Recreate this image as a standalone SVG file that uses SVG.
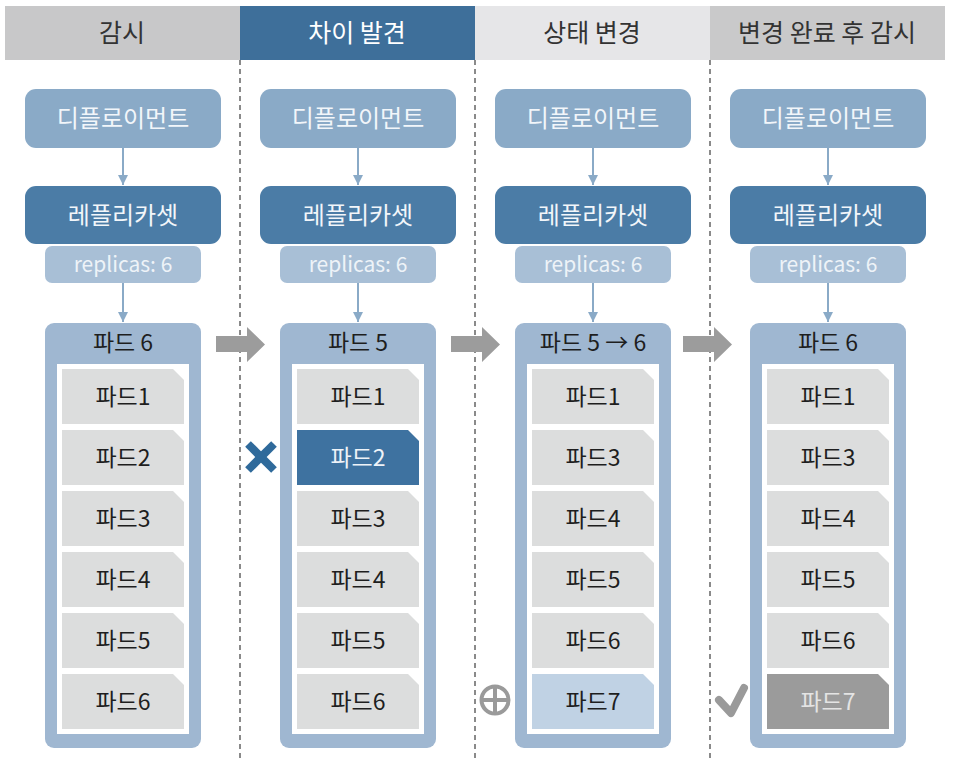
<svg xmlns="http://www.w3.org/2000/svg" width="953" height="764" viewBox="0 0 953 764">
<defs>
<style>
text{font-family:"Noto Sans CJK KR","Noto Sans",sans-serif;text-anchor:middle}
.hd{font-size:25px;fill:#333}
.hdw{font-size:25px;fill:#fff}
.dep{fill:#8aaac7}
.rs{fill:#4b7ca6}
.rep{fill:#a8bfd6}
.wt{font-size:24px;fill:#f2f6fa}
.rpt{font-size:21px;fill:#eef3f8}
.cont{fill:#9fb7d1}
.inner{fill:#fff}
.item{fill:#dcdddd}
.it{font-size:23px;fill:#1e1e1e}
.vl{stroke:#8aaac7;stroke-width:2;fill:none}
.dash{stroke:#8a8a8a;stroke-width:2;stroke-dasharray:5 4}
.blk{fill:#9c9c9c}
</style>
<marker id="ah" markerWidth="12" markerHeight="10" refX="10" refY="5" orient="auto" markerUnits="userSpaceOnUse">
<path d="M0,0 L10,5 L0,10 Z" fill="#8aaac7"/>
</marker>
<path id="itm" d="M0,0 H111 L122,11 V55 H0 Z"/>
</defs>
<rect width="953" height="764" fill="#fff"/>

<g id="headers">
<rect x="5" y="6" width="235" height="54" fill="#c8c8c9"/>
<rect x="240" y="6" width="235" height="54" fill="#3e6f9a"/>
<rect x="475" y="6" width="235" height="54" fill="#e6e6e8"/>
<rect x="710" y="6" width="235" height="54" fill="#c9c9ca"/>
<text class="hd" x="122" y="42">감시</text>
<text class="hdw" x="357" y="42">차이 발견</text>
<text class="hd" x="592" y="42">상태 변경</text>
<text class="hd" x="827" y="42">변경 완료 후 감시</text>
</g>

<g id="dividers">
<line class="dash" x1="240" y1="60" x2="240" y2="762"/>
<line class="dash" x1="475" y1="60" x2="475" y2="762"/>
<line class="dash" x1="710" y1="60" x2="710" y2="762"/>
</g>

<g id="connectors">
<line class="vl" x1="123" y1="148" x2="123" y2="185" marker-end="url(#ah)"/>
<line class="vl" x1="123" y1="283" x2="123" y2="322" marker-end="url(#ah)"/>
<line class="vl" x1="358" y1="148" x2="358" y2="185" marker-end="url(#ah)"/>
<line class="vl" x1="358" y1="283" x2="358" y2="322" marker-end="url(#ah)"/>
<line class="vl" x1="593" y1="148" x2="593" y2="185" marker-end="url(#ah)"/>
<line class="vl" x1="593" y1="283" x2="593" y2="322" marker-end="url(#ah)"/>
<line class="vl" x1="828" y1="148" x2="828" y2="185" marker-end="url(#ah)"/>
<line class="vl" x1="828" y1="283" x2="828" y2="322" marker-end="url(#ah)"/>
<path class="blk" d="M216,336 H247 V327 L265,344.5 L247,362 V352 H216 Z"/>
<path class="blk" d="M451,336 H482 V327 L500,344.5 L482,362 V352 H451 Z"/>
<path class="blk" d="M683,336 H714 V327 L732,344.5 L714,362 V352 H683 Z"/>
</g>

<!-- Column 1 -->
<g id="col1-deployment"><rect class="dep" x="25" y="89" width="196" height="59" rx="11"/><text class="wt" x="123" y="127">디플로이먼트</text></g>
<g id="col1-replicaset"><rect class="rs" x="25" y="186" width="196" height="58" rx="11"/><text class="wt" x="123" y="224">레플리카셋</text></g>
<g id="col1-replicas"><rect class="rep" x="45" y="246" width="156" height="37" rx="7"/><text class="rpt" x="123" y="272">replicas: 6</text></g>
<g id="col1-pods">
<rect class="cont" x="45" y="323" width="156" height="425" rx="9"/>
<text class="it" x="123" y="351">파드 6</text>
<rect class="inner" x="57" y="364" width="132" height="370"/>
<use href="#itm" class="item" x="62" y="369"/><text class="it" x="123" y="405">파드1</text>
<use href="#itm" class="item" x="62" y="430"/><text class="it" x="123" y="466">파드2</text>
<use href="#itm" class="item" x="62" y="491"/><text class="it" x="123" y="527">파드3</text>
<use href="#itm" class="item" x="62" y="552"/><text class="it" x="123" y="588">파드4</text>
<use href="#itm" class="item" x="62" y="613"/><text class="it" x="123" y="649">파드5</text>
<use href="#itm" class="item" x="62" y="674"/><text class="it" x="123" y="710">파드6</text>
</g>

<!-- Column 2 -->
<g id="col2-deployment"><rect class="dep" x="260" y="89" width="196" height="59" rx="11"/><text class="wt" x="358" y="127">디플로이먼트</text></g>
<g id="col2-replicaset"><rect class="rs" x="260" y="186" width="196" height="58" rx="11"/><text class="wt" x="358" y="224">레플리카셋</text></g>
<g id="col2-replicas"><rect class="rep" x="280" y="246" width="156" height="37" rx="7"/><text class="rpt" x="358" y="272">replicas: 6</text></g>
<g id="col2-pods">
<rect class="cont" x="280" y="323" width="156" height="425" rx="9"/>
<text class="it" x="358" y="351">파드 5</text>
<rect class="inner" x="292" y="364" width="132" height="370"/>
<use href="#itm" class="item" x="297" y="369"/><text class="it" x="358" y="405">파드1</text>
<use href="#itm" fill="#3e72a0" x="297" y="430"/><text class="it" x="358" y="466" style="fill:#eef3f8">파드2</text>
<use href="#itm" class="item" x="297" y="491"/><text class="it" x="358" y="527">파드3</text>
<use href="#itm" class="item" x="297" y="552"/><text class="it" x="358" y="588">파드4</text>
<use href="#itm" class="item" x="297" y="613"/><text class="it" x="358" y="649">파드5</text>
<use href="#itm" class="item" x="297" y="674"/><text class="it" x="358" y="710">파드6</text>
</g>
<g id="col2-x-mark" stroke="#2f6a9b" stroke-width="8">
<line x1="248" y1="444" x2="274" y2="470"/>
<line x1="274" y1="444" x2="248" y2="470"/>
</g>

<!-- Column 3 -->
<g id="col3-deployment"><rect class="dep" x="495" y="89" width="196" height="59" rx="11"/><text class="wt" x="593" y="127">디플로이먼트</text></g>
<g id="col3-replicaset"><rect class="rs" x="495" y="186" width="196" height="58" rx="11"/><text class="wt" x="593" y="224">레플리카셋</text></g>
<g id="col3-replicas"><rect class="rep" x="515" y="246" width="156" height="37" rx="7"/><text class="rpt" x="593" y="272">replicas: 6</text></g>
<g id="col3-pods">
<rect class="cont" x="515" y="323" width="156" height="425" rx="9"/>
<text class="it" x="593" y="351">파드 5 → 6</text>
<rect class="inner" x="527" y="364" width="132" height="370"/>
<use href="#itm" class="item" x="532" y="369"/><text class="it" x="593" y="405">파드1</text>
<use href="#itm" class="item" x="532" y="430"/><text class="it" x="593" y="466">파드3</text>
<use href="#itm" class="item" x="532" y="491"/><text class="it" x="593" y="527">파드4</text>
<use href="#itm" class="item" x="532" y="552"/><text class="it" x="593" y="588">파드5</text>
<use href="#itm" class="item" x="532" y="613"/><text class="it" x="593" y="649">파드6</text>
<use href="#itm" fill="#c0d2e4" x="532" y="674"/><text class="it" x="593" y="710">파드7</text>
</g>
<g id="col3-plus" stroke="#9a9a9a" fill="none">
<circle cx="495" cy="700" r="13.5" stroke-width="4"/>
<line x1="483" y1="700" x2="507" y2="700" stroke-width="4"/>
<line x1="495" y1="688" x2="495" y2="712" stroke-width="4"/>
</g>

<!-- Column 4 -->
<g id="col4-deployment"><rect class="dep" x="730" y="89" width="196" height="59" rx="11"/><text class="wt" x="828" y="127">디플로이먼트</text></g>
<g id="col4-replicaset"><rect class="rs" x="730" y="186" width="196" height="58" rx="11"/><text class="wt" x="828" y="224">레플리카셋</text></g>
<g id="col4-replicas"><rect class="rep" x="750" y="246" width="156" height="37" rx="7"/><text class="rpt" x="828" y="272">replicas: 6</text></g>
<g id="col4-pods">
<rect class="cont" x="750" y="323" width="156" height="425" rx="9"/>
<text class="it" x="828" y="351">파드 6</text>
<rect class="inner" x="762" y="364" width="132" height="370"/>
<use href="#itm" class="item" x="767" y="369"/><text class="it" x="828" y="405">파드1</text>
<use href="#itm" class="item" x="767" y="430"/><text class="it" x="828" y="466">파드3</text>
<use href="#itm" class="item" x="767" y="491"/><text class="it" x="828" y="527">파드4</text>
<use href="#itm" class="item" x="767" y="552"/><text class="it" x="828" y="588">파드5</text>
<use href="#itm" class="item" x="767" y="613"/><text class="it" x="828" y="649">파드6</text>
<use href="#itm" fill="#9b9b9b" x="767" y="674"/><text class="it" x="828" y="710" style="fill:#e4e4e4">파드7</text>
</g>
<g id="col4-check">
<path d="M719,700 L731,713 L744,688" stroke="#9a9a9a" stroke-width="8" stroke-linecap="round" stroke-linejoin="round" fill="none"/>
</g>
</svg>
